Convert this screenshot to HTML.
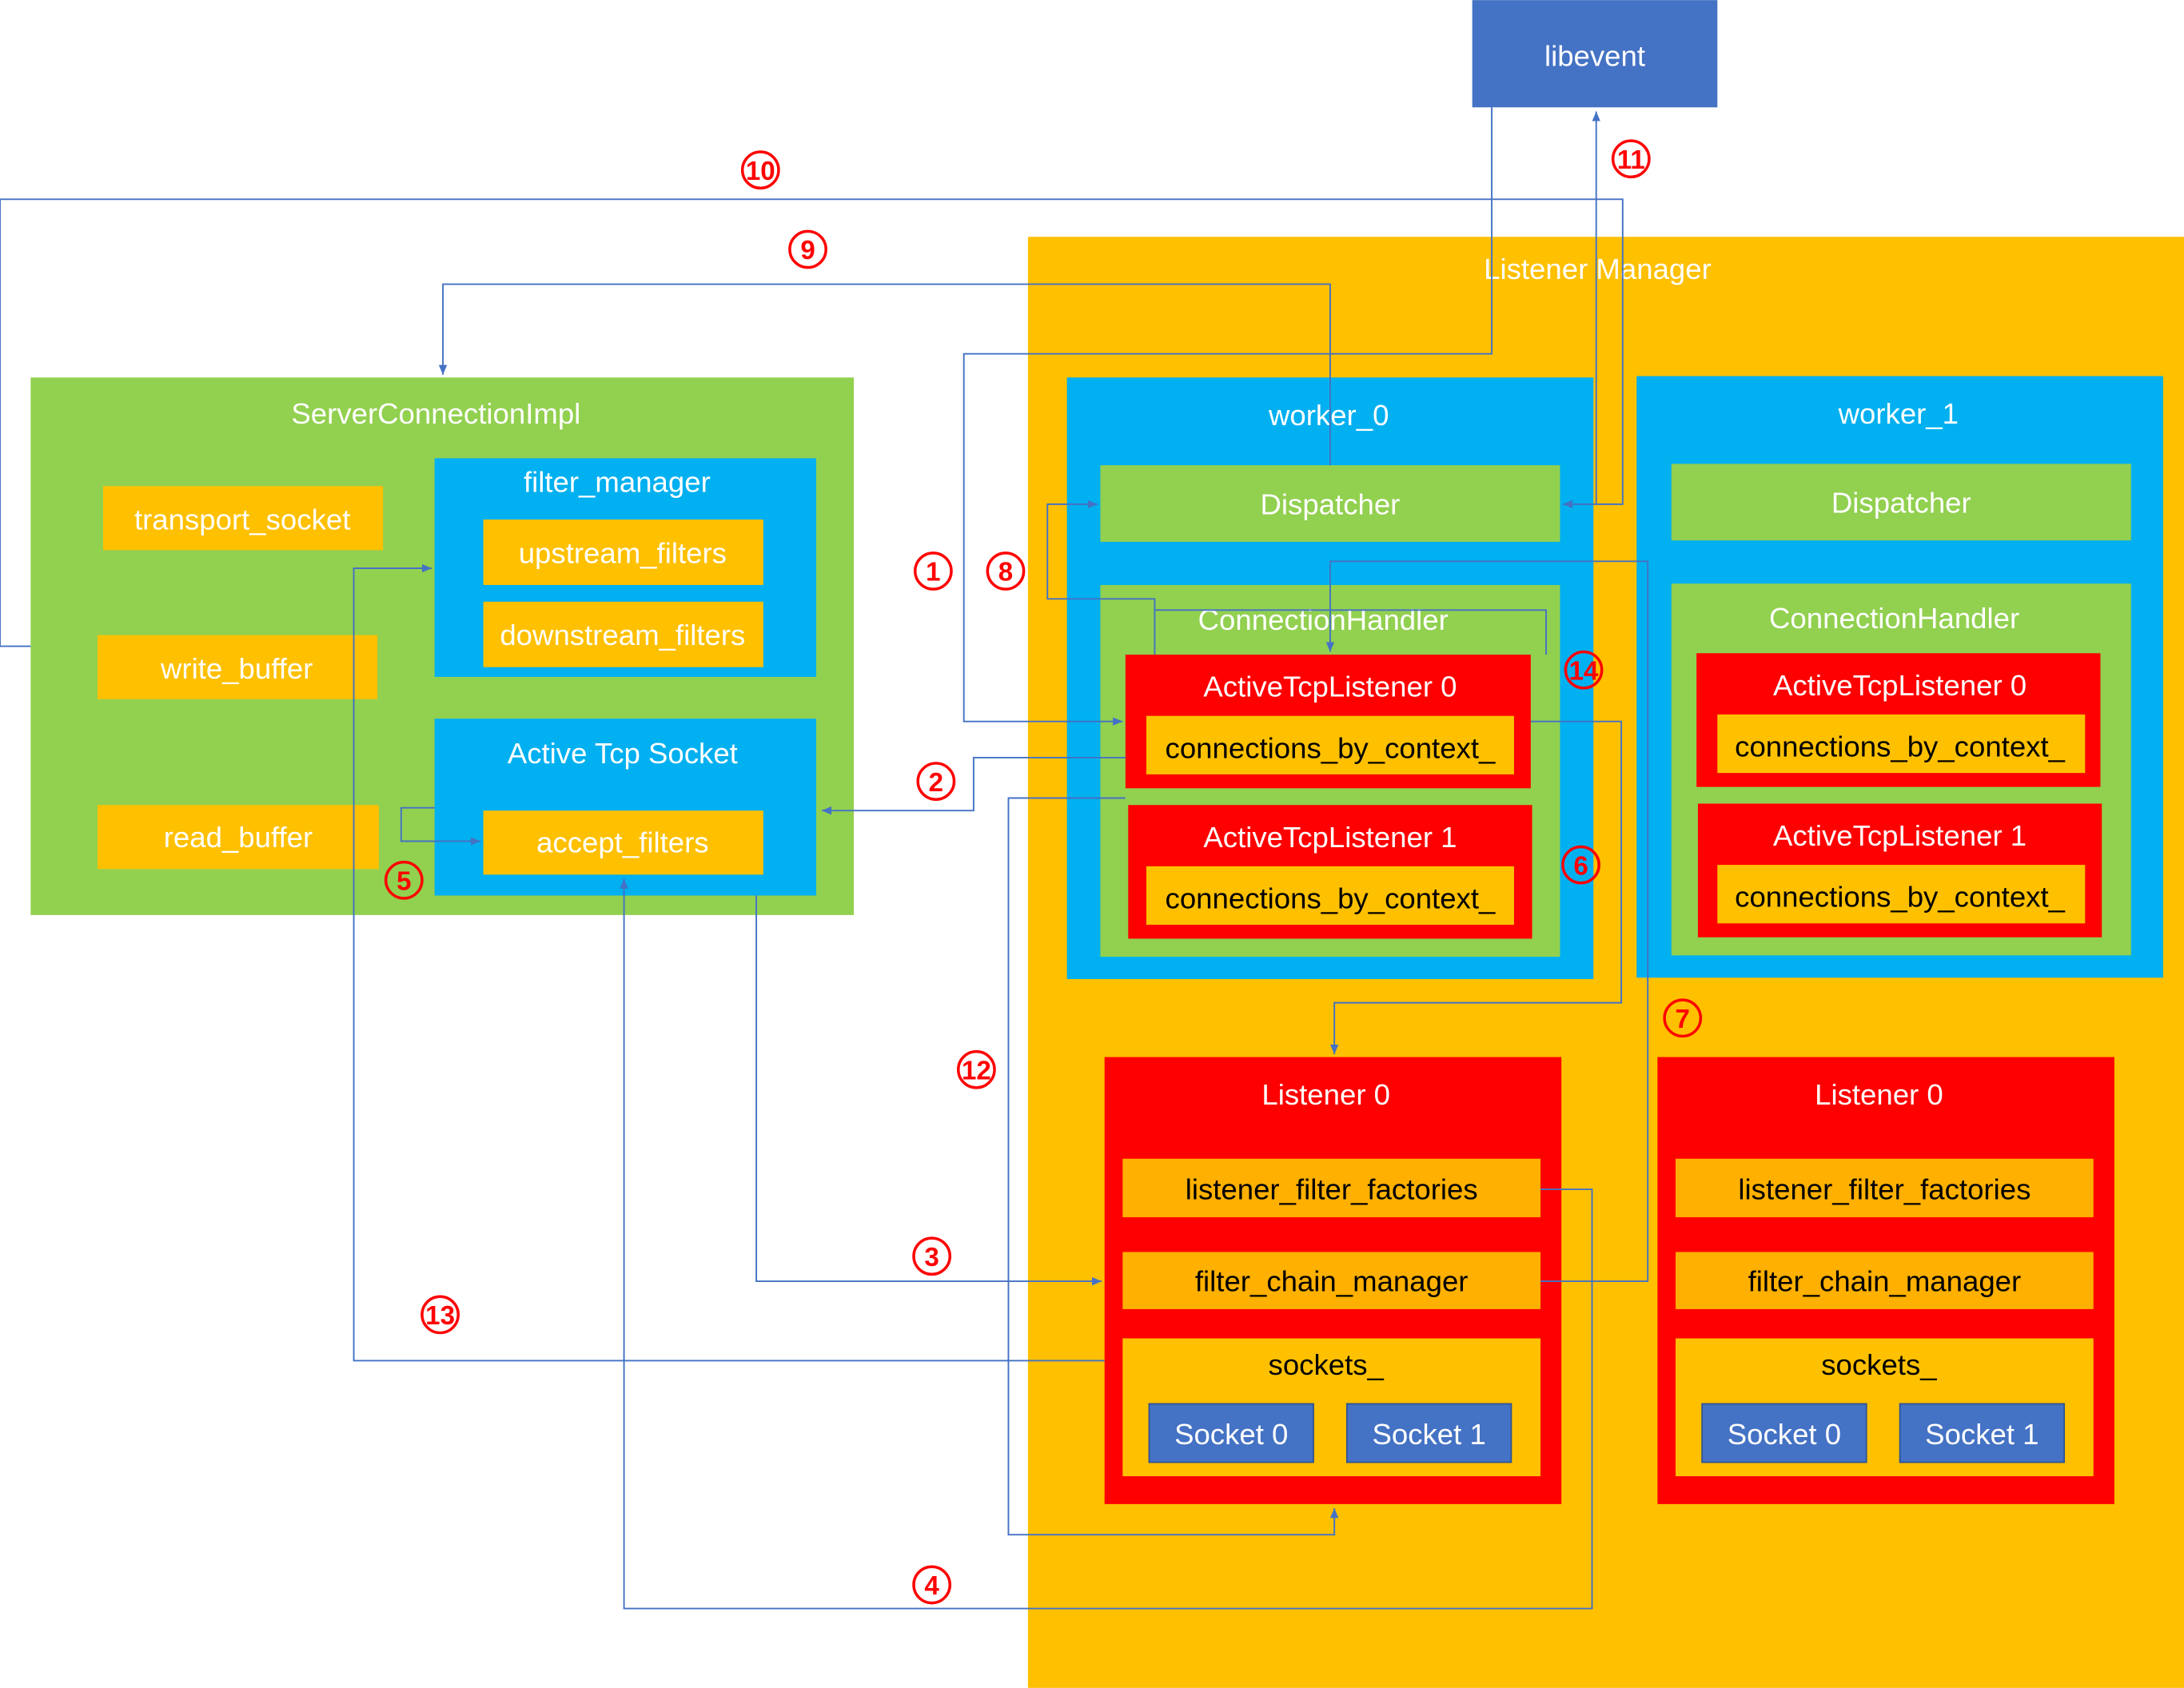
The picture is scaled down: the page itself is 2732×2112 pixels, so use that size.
<!DOCTYPE html>
<html><head><meta charset="utf-8"><style>
html,body{margin:0;padding:0;background:#fff;width:2732px;height:2112px;overflow:hidden}
svg{display:block}
text{font-family:"Liberation Sans",sans-serif;font-size:21px;text-anchor:middle;dominant-baseline:central}
.w{fill:#fff}.k{fill:#000}
.n{fill:#f00;font-weight:bold;font-size:19px}
.l{fill:none;stroke:#4472C4;stroke-width:1.1}
</style></head><body>
<svg width="2732" height="2112" viewBox="0 0 1568 1212" xmlns="http://www.w3.org/2000/svg">
<defs><marker id="a" markerWidth="8" markerHeight="8" refX="7" refY="4" orient="auto" markerUnits="userSpaceOnUse"><path d="M0,1 L7,4 L0,7z" fill="#4472C4"/></marker></defs>
<rect x="1057" y="0" width="176" height="77" fill="#4472C4"/><text x="1145" y="40" class="w">libevent</text>
<rect x="738" y="170" width="830" height="1042" fill="#FFC000"/><text x="1147" y="193" class="w">Listener Manager</text>
<rect x="22" y="271" width="591" height="386" fill="#92D050"/><text x="313" y="297" class="w">ServerConnectionImpl</text>
<rect x="74" y="349" width="201" height="46" fill="#FFC000"/><text x="174" y="373" class="w">transport_socket</text>
<rect x="70" y="456" width="201" height="46" fill="#FFC000"/><text x="170" y="480" class="w">write_buffer</text>
<rect x="70" y="578" width="202" height="46" fill="#FFC000"/><text x="171" y="601" class="w">read_buffer</text>
<rect x="312" y="329" width="274" height="157" fill="#00B0F0"/><text x="443" y="346" class="w">filter_manager</text>
<rect x="347" y="373" width="201" height="47" fill="#FFC000"/><text x="447" y="397" class="w">upstream_filters</text>
<rect x="347" y="432" width="201" height="47" fill="#FFC000"/><text x="447" y="456" class="w">downstream_filters</text>
<rect x="312" y="516" width="274" height="127" fill="#00B0F0"/><text x="447" y="541" class="w">Active Tcp Socket</text>
<rect x="347" y="582" width="201" height="46" fill="#FFC000"/><text x="447" y="605" class="w">accept_filters</text>
<g id="w0">
<rect x="766" y="271" width="378" height="432" fill="#00B0F0"/><text x="954" y="298" class="w">worker_0</text>
<rect x="790" y="334" width="330" height="55" fill="#92D050"/><text x="955" y="362" class="w">Dispatcher</text>
<rect x="790" y="420" width="330" height="267" fill="#92D050"/><text x="950" y="445" class="w">ConnectionHandler</text>
<rect x="808" y="470" width="291" height="96" fill="#f00"/><text x="955" y="493" class="w">ActiveTcpListener 0</text>
<rect x="823" y="514" width="264" height="42" fill="#FFC000"/><text x="955" y="537" class="k">connections_by_context_</text>
<rect x="810" y="578" width="290" height="96" fill="#f00"/><text x="955" y="601" class="w">ActiveTcpListener 1</text>
<rect x="823" y="622" width="264" height="42" fill="#FFC000"/><text x="955" y="645" class="k">connections_by_context_</text>
</g>
<g transform="translate(409,-1)">
<rect x="766" y="271" width="378" height="432" fill="#00B0F0"/><text x="954" y="298" class="w">worker_1</text>
<rect x="791" y="334" width="330" height="55" fill="#92D050"/><text x="956" y="362" class="w">Dispatcher</text>
<rect x="791" y="420" width="330" height="267" fill="#92D050"/><text x="951" y="445" class="w">ConnectionHandler</text>
<rect x="809" y="470" width="290" height="96" fill="#f00"/><text x="955" y="493" class="w">ActiveTcpListener 0</text>
<rect x="824" y="514" width="264" height="42" fill="#FFC000"/><text x="955" y="537" class="k">connections_by_context_</text>
<rect x="810" y="578" width="290" height="96" fill="#f00"/><text x="955" y="601" class="w">ActiveTcpListener 1</text>
<rect x="824" y="622" width="264" height="42" fill="#FFC000"/><text x="955" y="645" class="k">connections_by_context_</text>
</g>
<g id="l0">
<rect x="793" y="759" width="328" height="321" fill="#f00"/><text x="952" y="786" class="w">Listener 0</text>
<rect x="806" y="832" width="300" height="42" fill="#FFB000"/><text x="956" y="854" class="k">listener_filter_factories</text>
<rect x="806" y="899" width="300" height="41" fill="#FFB000"/><text x="956" y="920" class="k">filter_chain_manager</text>
<rect x="806" y="961" width="300" height="99" fill="#FFC000"/><text x="952" y="980" class="k">sockets_</text>
<rect x="825" y="1008" width="118" height="42" fill="#4472C4" stroke="#2F528F"/><text x="884" y="1030" class="w">Socket 0</text>
<rect x="967" y="1008" width="118" height="42" fill="#4472C4" stroke="#2F528F"/><text x="1026" y="1030" class="w">Socket 1</text>
</g>
<use href="#l0" transform="translate(397,0)"/>
<g>
<polyline class="l" points="22,464 0,464 0,143 1165,143 1165,362 1122,362" marker-end="url(#a)"/>
<polyline class="l" points="1146,362 1146,80" marker-end="url(#a)"/>
<polyline class="l" points="955,334 955,204 318,204 318,269" marker-end="url(#a)"/>
<polyline class="l" points="1071,77 1071,254 692,254 692,518 806,518" marker-end="url(#a)"/>
<polyline class="l" points="829,470 829,430 752,430 752,362 788,362" marker-end="url(#a)"/>
<polyline class="l" points="1106,920 1183,920 1183,403 955,403 955,468" marker-end="url(#a)"/>
<polyline class="l" points="829,438 1110,438 1110,470"/>
<polyline class="l" points="1099,518 1164,518 1164,720 958,720 958,757" marker-end="url(#a)"/>
<polyline class="l" points="808,544 699,544 699,582 590,582" marker-end="url(#a)"/>
<polyline class="l" points="808,573 724,573 724,1102 958,1102 958,1083" marker-end="url(#a)"/>
<polyline class="l" points="543,643 543,920 791,920" marker-end="url(#a)"/>
<polyline class="l" points="1106,854 1143,854 1143,1155 448,1155 448,631" marker-end="url(#a)"/>
<polyline class="l" points="793,977 254,977 254,408 310,408" marker-end="url(#a)"/>
<polyline class="l" points="312,580 288,580 288,604 345,604" marker-end="url(#a)"/>
</g>
<g fill="none" stroke="#f00" stroke-width="2">
<circle cx="546" cy="122" r="13"/><circle cx="580" cy="179" r="13"/><circle cx="1171" cy="114" r="13"/>
<circle cx="670" cy="410" r="13"/><circle cx="722" cy="410" r="13"/><circle cx="1137" cy="481" r="13"/>
<circle cx="672" cy="561" r="13"/><circle cx="1135" cy="621" r="13"/><circle cx="290" cy="632" r="13"/>
<circle cx="1208" cy="731" r="13"/><circle cx="701" cy="768" r="13"/><circle cx="669" cy="902" r="13"/>
<circle cx="316" cy="944" r="13"/><circle cx="669" cy="1138" r="13"/>
</g>
<text class="n" x="546" y="123">10</text><text class="n" x="580" y="180">9</text><text class="n" x="1171" y="115">11</text>
<text class="n" x="670" y="411">1</text><text class="n" x="722" y="411">8</text><text class="n" x="1137" y="482">14</text>
<text class="n" x="672" y="562">2</text><text class="n" x="1135" y="622">6</text><text class="n" x="290" y="633">5</text>
<text class="n" x="1208" y="732">7</text><text class="n" x="701" y="769">12</text><text class="n" x="669" y="903">3</text>
<text class="n" x="316" y="945">13</text><text class="n" x="669" y="1139">4</text>
</svg>
</body></html>
